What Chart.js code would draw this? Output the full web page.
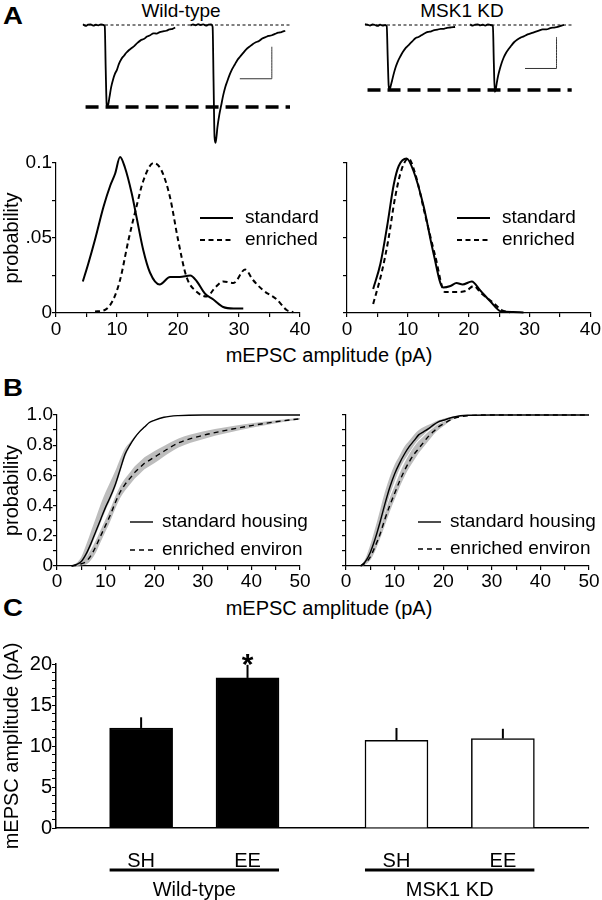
<!DOCTYPE html>
<html><head><meta charset="utf-8">
<script src="https://cdn.jsdelivr.net/npm/chart.js@4.4.0/dist/chart.umd.min.js"></script>
<style>
html,body{margin:0;padding:0;background:#fff;}
#fig{position:relative;width:602px;height:900px;overflow:hidden;background:#fff;font-family:"Liberation Sans",Arial,sans-serif;color:#000;}
#fig canvas{position:absolute;}
.t{position:absolute;white-space:nowrap;line-height:1;}
.c{text-align:center;width:300px;}
.p{font-weight:bold;font-size:23px;transform:scaleX(1.2);transform-origin:left top;}
</style></head><body>
<div id="fig">
  <div class="t p" style="left:3px;top:5px;">A</div>
  <div class="t c" style="left:31px;top:1px;font-size:19px;">Wild-type</div>
  <div class="t c" style="left:312px;top:1px;font-size:19px;">MSK1 KD</div>
  <div class="t c" style="left:179px;top:345px;font-size:20px;">mEPSC amplitude (pA)</div>
  <div class="t p" style="left:3px;top:377px;">B</div>
  <div class="t c" style="left:179px;top:598px;font-size:20px;">mEPSC amplitude (pA)</div>
  <div class="t p" style="left:3px;top:597px;">C</div>
  <canvas id="traceL" width="240" height="140" style="left:70px;top:15px"></canvas>
  <canvas id="traceR" width="240" height="140" style="left:352px;top:15px"></canvas>
  <canvas id="distR" width="275" height="193" style="left:327px;top:150px"></canvas>
  <canvas id="distL" width="340" height="193" style="left:0px;top:150px"></canvas>
  <canvas id="cdfR" width="276" height="196" style="left:326px;top:400px"></canvas>
  <canvas id="cdfL" width="330" height="196" style="left:0px;top:400px"></canvas>
  <canvas id="barC" width="602" height="260" style="left:0px;top:640px"></canvas>
</div>
<script>
// ===================== DATA =====================
// Panel A: example mEPSC traces (time in ms, current in pA)
const wtTrace1Time = [0,0.4,0.8,1.2,1.6,2.0,2.4,2.8,3.2,3.4,3.55,3.7,3.8,3.95,4.15,4.4,4.7,5.0,5.3,5.6,6.0,6.4,6.8,7.2,7.6,8.0,8.5,9.0,9.5,10,10.5,11,11.5,12,12.5,13,13.5,14,14.4];
const wtTrace1Current = [0.1,-0.15,0.05,0.1,-0.1,0.05,-0.05,0.1,0,-0.2,-7,-12.5,-12.8,-12.4,-11.2,-9.7,-8.5,-7.6,-7.0,-6.1,-5.3,-4.8,-4.3,-3.9,-3.6,-3.3,-2.8,-2.4,-2.2,-1.8,-1.6,-1.3,-1.35,-1.1,-1.0,-0.9,-0.7,-0.6,-0.4];
const wtTrace2Time = [16.8,17.2,17.6,18.0,18.4,18.8,19.2,19.6,20.0,20.25,20.4,20.55,20.7,20.85,21.0,21.3,21.6,21.9,22.2,22.5,22.9,23.3,23.7,24.1,24.5,25.0,25.5,26.0,26.5,27.0,27.5,28.0,28.5,29.0,29.5,30.0,30.5,31.0,31.6];
const wtTrace2Current = [-0.1,0.1,-0.05,0.15,0,0.1,-0.1,0.05,0.1,-0.3,-9,-17.5,-18.4,-17.5,-16,-14,-12.5,-11,-9.8,-8.9,-7.8,-6.9,-6.2,-5.5,-5.0,-4.4,-3.8,-3.4,-3.0,-2.7,-2.5,-2.1,-1.9,-1.7,-1.6,-1.4,-1.2,-1.1,-0.9];
const kdTrace1Time = [0,0.4,0.8,1.2,1.6,2.0,2.4,2.8,3.2,3.45,3.6,3.75,3.9,4.05,4.3,4.6,4.9,5.2,5.6,6.0,6.5,7.0,7.5,8.0,8.5,9.0,9.5,10,10.5,11,11.5,12,12.5,13,13.5,14,14.3];
const kdTrace1Current = [0.15,0.05,-0.1,0.1,0,-0.15,0.05,-0.1,0,-0.2,-5,-9.5,-10.3,-9.8,-8.8,-7.6,-6.6,-5.8,-5.0,-4.3,-3.6,-3.1,-2.6,-2.1,-1.9,-1.6,-1.3,-1.1,-1.0,-0.8,-0.75,-0.6,-0.6,-0.45,-0.4,-0.35,-0.3];
const kdTrace2Time = [16.7,17.1,17.5,17.9,18.3,18.7,19.1,19.5,19.9,20.3,20.45,20.6,20.75,20.9,21.1,21.4,21.7,22.0,22.4,22.8,23.2,23.7,24.2,24.7,25.2,25.8,26.4,27.0,27.6,28.2,28.8,29.4,30.0,30.6,31.2,31.6];
const kdTrace2Current = [0.1,-0.1,0.05,0.1,-0.05,0.05,-0.1,0.1,0,-0.15,-6,-10.6,-10.2,-9.3,-8.2,-7.0,-6.0,-5.2,-4.4,-3.8,-3.3,-2.7,-2.3,-2.0,-1.8,-1.5,-1.3,-1.1,-0.9,-0.7,-0.7,-0.5,-0.4,-0.3,-0.1,0];
const wtPeakLevel = -12.8;   // thick dashed reference (pA)
const kdPeakLevel = -10.3;
const scaleBarMs = 5, scaleBarPA = 5;

// Panel A: amplitude distributions
const wtStdAmp  = [4.4,5.3,6.4,7.8,8.9,9.7,10.5,11.3,12.4,13.2,14.3,15.4,17.0,18.7,20.3,22.0,23.1,24.4,25.8,27.4,29.1,30.7];
const wtStdProb = [0.021,0.033,0.049,0.071,0.085,0.093,0.104,0.097,0.080,0.064,0.042,0.027,0.019,0.024,0.024,0.025,0.021,0.013,0.009,0.004,0.003,0.003];
const wtEnrAmp  = [6.4,8.0,9.4,10.5,11.9,13.2,14.3,16.0,17.3,18.7,20.0,21.4,23.1,24.7,26.1,27.4,29.1,31.0,32.3,34.0,36.2,37.8,38.9];
const wtEnrProb = [0.001,0.002,0.009,0.022,0.049,0.071,0.088,0.100,0.095,0.077,0.049,0.024,0.014,0.011,0.017,0.021,0.020,0.029,0.022,0.015,0.009,0.002,0.0005];
const kdStdAmp  = [4.3,5.5,6.6,7.7,8.5,9.8,10.9,12.6,14.2,15.8,17.0,18.0,19.0,20.5,21.9,23.5,25.4,27.3,29.0];
const kdStdProb = [0.016,0.033,0.058,0.086,0.098,0.103,0.095,0.071,0.040,0.017,0.018,0.020,0.019,0.021,0.015,0.008,0.001,0.0007,0.0004];
const kdEnrAmp  = [4.3,5.7,6.8,7.9,9.0,10.1,11.2,12.8,14.5,16.1,18.0,19.7,20.8,22.1,24.0,25.4,26.8];
const kdEnrProb = [0.006,0.027,0.049,0.077,0.096,0.103,0.093,0.066,0.038,0.014,0.014,0.015,0.018,0.013,0.007,0.002,0.0004];
const distYTickValues = [0, 0.05, 0.1];
const distYTickLabels = ['0', '.05', '0.1'];

// Panel B: cumulative probability (mean and SEM band)
const cumAmp = [3,4,5,6,7,8,9,10,11,12,13,14,15,16,17,18,19,20,22,25,30,35,40,45,50];
const wtStdCum   = [0,0.01,0.03,0.08,0.15,0.23,0.31,0.39,0.46,0.54,0.64,0.74,0.80,0.85,0.89,0.92,0.95,0.965,0.985,0.996,1,1,1,1,1];
const wtStdCumHi = [0,0.02,0.06,0.14,0.23,0.32,0.41,0.49,0.56,0.63,0.71,0.78,0.82,0.86,0.89,0.92,0.95,0.965,0.985,0.996,1,1,1,1,1];
const wtStdCumLo = [0,0.005,0.02,0.06,0.13,0.21,0.29,0.37,0.44,0.52,0.62,0.72,0.79,0.845,0.885,0.918,0.948,0.963,0.984,0.995,1,1,1,1,1];
const wtEnrCum   = [0,0.005,0.015,0.03,0.07,0.13,0.2,0.27,0.34,0.42,0.49,0.54,0.58,0.62,0.65,0.68,0.70,0.72,0.76,0.815,0.865,0.9,0.93,0.955,0.975];
const wtEnrCumHi = [0,0.01,0.03,0.06,0.11,0.17,0.24,0.31,0.38,0.46,0.53,0.58,0.62,0.66,0.69,0.72,0.74,0.76,0.795,0.845,0.89,0.92,0.945,0.965,0.98];
const wtEnrCumLo = [0,0,0.005,0.01,0.04,0.09,0.16,0.23,0.30,0.38,0.45,0.50,0.54,0.58,0.61,0.64,0.66,0.68,0.725,0.785,0.84,0.88,0.915,0.945,0.97];
const kdStdCum   = [0,0.03,0.09,0.18,0.29,0.41,0.52,0.61,0.68,0.74,0.79,0.83,0.87,0.89,0.91,0.935,0.955,0.965,0.985,0.998,1,1,1,1,1];
const kdStdCumHi = [0,0.05,0.14,0.25,0.37,0.49,0.59,0.67,0.73,0.79,0.83,0.87,0.9,0.92,0.935,0.95,0.965,0.975,0.99,1,1,1,1,1,1];
const kdStdCumLo = [0,0.02,0.07,0.15,0.25,0.36,0.47,0.56,0.64,0.7,0.75,0.8,0.84,0.87,0.9,0.92,0.945,0.96,0.98,0.995,1,1,1,1,1];
const kdEnrCum   = [0,0.02,0.06,0.13,0.21,0.31,0.40,0.48,0.56,0.63,0.69,0.74,0.78,0.82,0.86,0.89,0.92,0.94,0.975,0.995,1,1,1,1,1];
const kdEnrCumHi = [0,0.03,0.08,0.16,0.25,0.35,0.45,0.53,0.61,0.68,0.74,0.79,0.83,0.86,0.89,0.915,0.94,0.955,0.98,0.997,1,1,1,1,1];
const kdEnrCumLo = [0,0.01,0.04,0.1,0.18,0.27,0.36,0.44,0.52,0.59,0.65,0.7,0.75,0.79,0.83,0.87,0.9,0.925,0.97,0.993,1,1,1,1,1];

// Panel C: mean mEPSC amplitude (pA) +/- SEM
const barCategories = ['SH', 'EE', 'SH', 'EE'];
const barGroups = ['Wild-type', 'MSK1 KD'];
const barMeans = [12.2, 18.3, 10.7, 10.9];
const barErrors = [1.3, 1.6, 1.5, 1.2];
const barSignificant = [false, true, false, false];

// ===================== RENDERING =====================
const FONT = '"Liberation Sans", Arial, sans-serif';
Chart.defaults.font.family = FONT;
Chart.defaults.color = '#000';
Chart.defaults.animation = false;
Chart.defaults.plugins.legend.display = false;
Chart.defaults.plugins.tooltip.enabled = false;

const xy = (xs, ys) => xs.map((x, i) => ({x, y: ys[i]}));
const line = (data, style) => Object.assign({data, showLine:true, pointRadius:0, borderColor:'#000',
  backgroundColor:'#000', fill:false, clip:false, cubicInterpolationMode:'monotone', borderWidth:2}, style);

const insetLegend = {
  id: 'insetLegend',
  afterDatasetsDraw(chart, args, o) {
    if (!o || !o.items) return;
    const ctx = chart.ctx; ctx.save();
    o.items.forEach((di, i) => {
      const ds = chart.data.datasets[di];
      const y = o.y + i * o.rowGap;
      ctx.strokeStyle = ds.borderColor; ctx.lineWidth = ds.borderWidth; ctx.setLineDash(ds.borderDash || []);
      ctx.beginPath(); ctx.moveTo(o.x, y); ctx.lineTo(o.x + o.lineLength, y); ctx.stroke();
      ctx.setLineDash([]);
      ctx.fillStyle = '#000'; ctx.font = o.fontSize + 'px ' + FONT;
      ctx.textBaseline = 'middle'; ctx.textAlign = 'left';
      ctx.fillText(ds.label, o.x + o.lineLength + o.gap, y);
    });
    ctx.restore();
  }
};
Chart.register(insetLegend);

function xAxis(max, step, major, pad, fontSize) {
  return {type:'linear', min:0, max, afterFit: s => { s.height = 30; },
    border:{display:true, color:'#000', width:1.2},
    grid:{display:true, drawOnChartArea:false, drawTicks:true, tickLength:4, color:'#000', lineWidth:1.2},
    ticks:{stepSize:step, autoSkip:false, maxRotation:0, padding:pad, color:'#000', font:{size:fontSize},
      callback: v => (Math.abs(v / major - Math.round(v / major)) < 1e-6 ? String(Math.round(v)) : '')}};
}
function yAxis(min, max, step, width, labelFn, title) {
  return {type:'linear', min, max, afterFit: s => { s.width = width; },
    border:{display:true, color:'#000', width:1.2},
    grid:{display:true, drawOnChartArea:false, drawTicks:true, tickLength:4, color:'#000', lineWidth:1.2},
    ticks:{stepSize:step, autoSkip:false, padding:0, color:'#000', font:{size:19}, callback: labelFn},
    title: title ? {display:true, text:title, color:'#000', font:{size:20}, padding:0} : {display:false}};
}

// ---- traces ----
function traceChart(id, traces, peak, tMax, yMin, corner, pad) {
  const ds = [
    line([{x:0, y:0}, {x:tMax, y:0}], {borderWidth:1, borderDash:[3,2.5], tension:0}),
    line([{x:0.4, y:peak}, {x:tMax, y:peak}], {borderWidth:3.5, borderDash:[13,7], tension:0})
  ];
  traces.forEach(tr => ds.push(line(xy(tr[0], tr[1]), {borderWidth:1.8, tension:0})));
  ds.push(line([{x:corner[0] - scaleBarMs, y:corner[1]}, {x:corner[0], y:corner[1]}, {x:corner[0], y:corner[1] + scaleBarPA}],
    {borderWidth:1, borderColor:'#333', tension:0}));
  new Chart(document.getElementById(id), {type:'scatter', data:{datasets:ds},
    options:{responsive:false, layout:{padding:pad},
      scales:{x:{type:'linear', display:false, min:0, max:tMax}, y:{type:'linear', display:false, min:yMin, max:0}}}});
}
traceChart('traceL', [[wtTrace1Time, wtTrace1Current], [wtTrace2Time, wtTrace2Current]], wtPeakLevel,
  32.34, -19.53, [29.5, -8.4], {left:13, right:20, top:10, bottom:5});
traceChart('traceR', [[kdTrace1Time, kdTrace1Current], [kdTrace2Time, kdTrace2Current]], kdPeakLevel,
  32.81, -19.84, [30.4, -6.9], {left:13, right:20.3, top:10, bottom:5});

// ---- distributions ----
const distLabel = v => { const k = distYTickValues.findIndex(t => Math.abs(t - v) < 1e-6); return k >= 0 ? distYTickLabels[k] : ''; };
function distChart(id, stdX, stdY, enrX, enrY, yWidth, labels, title, padRight, leg) {
  new Chart(document.getElementById(id), {type:'line',
    data:{datasets:[
      line(xy(stdX, stdY), {label:'standard', borderWidth:2}),
      line(xy(enrX, enrY), {label:'enriched', borderWidth:2, borderDash:[5,3.5]})
    ]},
    options:{responsive:false, layout:{padding:{top:13, right:padRight, left:0, bottom:0}},
      scales:{x:xAxis(40, 5, 10, 1, 19), y:yAxis(0, 0.1, 0.025, yWidth, labels ? distLabel : () => '', title)},
      plugins:{insetLegend:Object.assign({rowGap:22, lineLength:33, gap:12, fontSize:19, items:[0,1]}, leg)}}});
}
distChart('distL', wtStdAmp, wtStdProb, wtEnrAmp, wtEnrProb, 56, true, 'probability', 40, {x:200, y:68});
distChart('distR', kdStdAmp, kdStdProb, kdEnrAmp, kdEnrProb, 20, false, null, 11, {x:130, y:68});

// ---- cumulative ----
const cdfLabel = v => { const k = Math.round(v * 10); return k % 2 === 0 ? (k === 0 ? '0' : (k / 10).toFixed(1)) : ''; };
function cdfChart(id, s, sHi, sLo, e, eHi, eLo, yWidth, labels, title, padRight, leg) {
  const band = {borderWidth:0, backgroundColor:'#bdbdbd', borderColor:'rgba(0,0,0,0)'};
  new Chart(document.getElementById(id), {type:'line',
    data:{datasets:[
      line(xy(cumAmp, s), {label:'standard housing', borderWidth:1.4}),
      line(xy(cumAmp, e), {label:'enriched environ', borderWidth:1.4, borderDash:[5,4]}),
      line(xy(cumAmp, sHi), Object.assign({fill:'+1'}, band)),
      line(xy(cumAmp, sLo), band),
      line(xy(cumAmp, eHi), Object.assign({fill:'+1'}, band)),
      line(xy(cumAmp, eLo), band)
    ]},
    options:{responsive:false, layout:{padding:{top:15, right:padRight, left:0, bottom:0}},
      scales:{x:xAxis(50, 5, 10, 0, 19), y:yAxis(0, 1, 0.1, yWidth, labels ? cdfLabel : () => '', title)},
      plugins:{insetLegend:Object.assign({lineLength:23, gap:9, fontSize:19, items:[0,1]}, leg)}}});
}
cdfChart('cdfL', wtStdCum, wtStdCumHi, wtStdCumLo, wtEnrCum, wtEnrCumHi, wtEnrCumLo, 57, true, 'probability', 30, {x:130, y:122, rowGap:28});
cdfChart('cdfR', kdStdCum, kdStdCumHi, kdStdCumLo, kdEnrCum, kdEnrCumHi, kdEnrCumLo, 20, false, null, 13, {x:92, y:122, rowGap:27});

// ---- bar chart ----
// bars placed two per genotype group on a linear axis (gap between groups)
const barSlot = barCategories.map((c, i) => 1.6 + Math.floor(i / 2) * 4.8 + (i % 2) * 2);
const barExtras = {
  id: 'barExtras',
  afterDatasetsDraw(chart) {
    const {ctx} = chart, y = chart.scales.y;
    const meta = chart.getDatasetMeta(0);
    ctx.save(); ctx.strokeStyle = '#000'; ctx.fillStyle = '#000';
    meta.data.forEach((bar, i) => {
      const top = y.getPixelForValue(barMeans[i]);
      const errTop = y.getPixelForValue(barMeans[i] + barErrors[i]);
      ctx.lineWidth = 2; ctx.beginPath(); ctx.moveTo(bar.x, top); ctx.lineTo(bar.x, errTop); ctx.stroke();
      if (barSignificant[i]) {
        ctx.font = 'bold 30px ' + FONT; ctx.textAlign = 'center'; ctx.textBaseline = 'alphabetic';
        ctx.fillText('*', bar.x, errTop + 9);
      }
    });
    barGroups.forEach((g, gi) => {
      const a = meta.data[gi * 2], b = meta.data[gi * 2 + 1];
      const x0 = a.x - a.width / 2, x1 = b.x + b.width / 2, ly = y.bottom + 42;
      ctx.lineWidth = 3; ctx.beginPath(); ctx.moveTo(x0, ly); ctx.lineTo(x1, ly); ctx.stroke();
      ctx.font = '20px ' + FONT; ctx.textAlign = 'center'; ctx.textBaseline = 'middle';
      ctx.fillText(g, (x0 + x1) / 2, ly + 20);
    });
    ctx.restore();
  }
};
new Chart(document.getElementById('barC'), {type:'bar',
  data:{datasets:[{data: barMeans.map((m, i) => ({x: barSlot[i], y: m})),
    backgroundColor: barGroups.flatMap((g, gi) => [gi === 0 ? '#000' : '#fff', gi === 0 ? '#000' : '#fff']),
    borderColor:'#000', borderWidth:1.5, barThickness:63}]},
  options:{responsive:false, layout:{padding:{top:24, right:14, left:0, bottom:0}},
    scales:{
      x:{type:'linear', min:0, max:10, offset:false, afterFit: s => { s.height = 72; },
        afterBuildTicks: s => { s.ticks = barSlot.map(v => ({value:v})); },
        border:{display:true, color:'#000', width:1.5}, grid:{display:false, offset:false},
        ticks:{autoSkip:false, maxRotation:0, padding:13, color:'#000', font:{size:20}, callback:(v, i) => barCategories[i]}},
      y:{type:'linear', min:0, max:20, afterFit: s => { s.width = 56; },
        border:{display:true, color:'#000', width:1.5},
        grid:{display:true, drawOnChartArea:false, drawTicks:true, tickLength:4, color:'#000', lineWidth:1},
        ticks:{stepSize:1, autoSkip:false, padding:0, color:'#000', font:{size:20}, callback: v => (v % 5 === 0 ? String(v) : '')},
        title:{display:true, text:'mEPSC amplitude (pA)', color:'#000', font:{size:20}, padding:0}}
    }},
  plugins:[barExtras]});
</script>
</body></html>
